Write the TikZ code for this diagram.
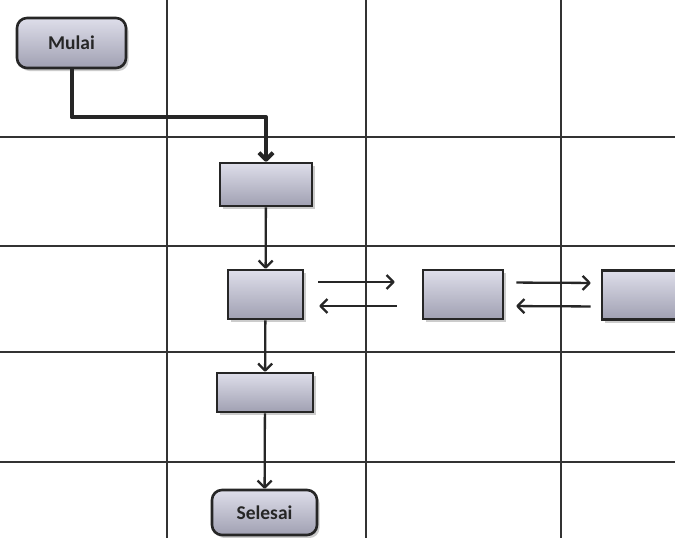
\documentclass[tikz,border=0pt]{standalone}
\usepackage{xcolor}
\usepackage{fontspec}
\setmainfont{Carlito}
\usetikzlibrary{shadows,arrows.meta}
\tikzset{every shadow/.style={opacity=0.4,shadow xshift=2.5pt,shadow yshift=-3pt}}
\definecolor{boxtop}{RGB}{222,222,234}
\definecolor{boxbot}{RGB}{160,160,178}

\begin{document}
\begin{tikzpicture}[x=1pt,y=-1pt,
  grid/.style={draw=black!80,line width=1.8pt},
  box/.style={draw=black!85,line width=2.6pt,top color=boxtop,bottom color=boxbot,
    drop shadow,inner sep=0pt},
  terminal/.style={box,rounded corners=10pt,text=black!85,
    font=\fontsize{19.5}{22}\selectfont\bfseries},
  flow/.style={draw=black!85,line width=2.3pt,line join=round,
    -{Straight Barb[length=7pt,width=14pt,line join=round]}}]
  \useasboundingbox (0,0) rectangle (675,538);
  \fill[white] (0,0) rectangle (675,538);
  \foreach \x in {167,366,561} \draw[grid] (\x,0) -- (\x,538);
  \foreach \y in {137,246,352,462} \draw[grid] (0,\y) -- (675,\y);

  \node[terminal,minimum width=109pt,minimum height=50pt] (mulai) at (71.5,43) {Mulai};
  \node[box,minimum width=92pt,minimum height=43pt] (p1) at (266,184.5) {};
  \node[box,minimum width=75pt,minimum height=49pt] (p2) at (265.5,294.5) {};
  \node[box,minimum width=80pt,minimum height=49pt] (p3) at (463,294.5) {};
  \node[box,minimum width=80pt,minimum height=49pt] (p4) at (642,295) {};
  \node[box,minimum width=96pt,minimum height=39pt] (p5) at (265,392.5) {};
  \node[terminal,minimum width=105pt,minimum height=45pt] (selesai) at (264.5,512.5) {Selesai};

  \draw[flow,line width=4pt] (mulai.south) -- ++(0,48) -| (p1.north);
  \draw[flow] (p1) -- (p2);
  \draw[flow] (p2) -- (p5);
  \draw[flow] (p5) -- (selesai);
  \draw[flow,shorten <=14pt,shorten >=27pt] ([yshift=12.5pt]p2.east) -- ([yshift=12.5pt]p3.west);
  \draw[flow,shorten <=25pt,shorten >=15pt] ([yshift=-11.5pt]p3.west) -- ([yshift=-11.5pt]p2.east);
  \draw[flow,shorten <=12pt,shorten >=10pt] ([yshift=12pt]p3.east) -- ([yshift=12pt]p4.west);
  \draw[flow,shorten <=10pt,shorten >=12pt] ([yshift=-11.5pt]p4.west) -- ([yshift=-11.5pt]p3.east);
\end{tikzpicture}
\end{document}
